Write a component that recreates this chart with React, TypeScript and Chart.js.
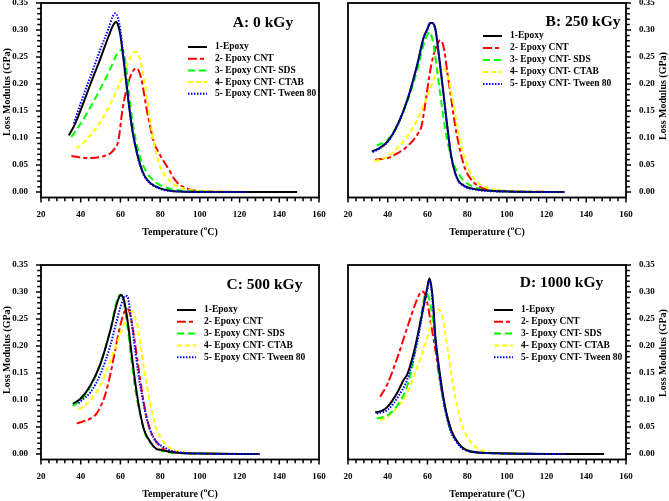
import React, { useEffect, useRef } from "react";
import { Chart, registerables } from "chart.js";
Chart.register(...registerables);

type Pt = [number, number];

const FONT = "'Times New Roman', 'Liberation Serif', serif";

const SERIES_LABELS = [
  "1-Epoxy",
  "2- Epoxy CNT",
  "3- Epoxy CNT- SDS",
  "4- Epoxy CNT- CTAB",
  "5- Epoxy CNT- Tween 80",
];
const SERIES_COLORS = ["#000000", "#ff0000", "#00ff00", "#ffff00", "#0000ff"];
const SERIES_DASH: number[][] = [[], [9, 3, 4, 3], [7, 4], [5, 3], [1.5, 1.5]];
const SERIES_ORDER = [1, 4, 2, 3, 0];

const PANEL_TITLES = ["A: 0 kGy", "B: 250 kGy", "C: 500 kGy", "D: 1000 kGy"];
const X_LABEL_STEP = 20;
const Y_LABEL_STEP = 0.05;

// ---- Panel A: 0 kGy ----
const A_EPOXY: Pt[] = [[34,0.105],[37,0.125],[40,0.152],[45,0.201],[50,0.248],[54,0.288],[56.5,0.31],[57.8,0.315],[59,0.307],[60,0.29],[62,0.232],[64,0.17],[66,0.115],[68,0.078],[70,0.05],[72,0.031],[75,0.017],[80,0.007],[85,0.0025],[90,0.001],[100,0.0003],[149,0]];
const A_CNT: Pt[] = [[35.3,0.067],[40,0.064],[45,0.063],[50,0.065],[55,0.072],[57,0.08],[59,0.096],[61,0.152],[63,0.189],[65,0.214],[66.5,0.225],[67.8,0.229],[69,0.226],[70.5,0.21],[72,0.18],[73,0.158],[75,0.121],[77,0.09],[79,0.075],[81,0.062],[83,0.05],[85,0.038],[87,0.025],[90,0.013],[95,0.005],[100,0.002],[125,0]];
const A_SDS: Pt[] = [[35.3,0.102],[40,0.127],[45,0.158],[50,0.192],[55,0.229],[58,0.254],[59.8,0.262],[61,0.264],[62,0.252],[63,0.228],[65,0.16],[67,0.11],[70,0.063],[73,0.038],[76,0.024],[80,0.013],[85,0.006],[90,0.003],[100,0.001],[125,0]];
const A_CTAB: Pt[] = [[37.8,0.081],[40,0.087],[45,0.106],[50,0.13],[55,0.164],[60,0.204],[64,0.241],[66,0.256],[67.5,0.26],[69,0.254],[70,0.244],[72,0.207],[74,0.158],[76,0.109],[78,0.072],[80,0.047],[83,0.028],[86,0.016],[90,0.009],[95,0.004],[100,0.002],[110,0.001],[128.7,0]];
const A_TWEEN: Pt[] = [[36.5,0.127],[40,0.165],[45,0.215],[50,0.265],[54,0.303],[56,0.324],[57.5,0.331],[58.8,0.322],[60,0.298],[62,0.235],[64,0.17],[66,0.113],[68,0.076],[70,0.048],[72,0.03],[75,0.016],[80,0.006],[85,0.002],[90,0.001],[100,0.0003],[124.5,0]];

// ---- Panel B: 250 kGy ----
const B_EPOXY: Pt[] = [[32,0.075],[36,0.082],[40,0.094],[45,0.125],[50,0.172],[55,0.238],[58,0.285],[60,0.302],[61.3,0.313],[62.5,0.313],[64,0.302],[66,0.247],[68,0.185],[70,0.122],[72,0.066],[74,0.035],[76,0.019],[78,0.013],[80,0.009],[85,0.005],[90,0.003],[100,0.001],[129,0]];
const B_CNT: Pt[] = [[33.7,0.06],[40,0.063],[45,0.072],[50,0.085],[55,0.107],[57,0.122],[59,0.166],[61,0.216],[63,0.253],[65,0.274],[66.5,0.281],[67.5,0.277],[68.5,0.262],[70,0.222],[72,0.172],[74,0.122],[76,0.085],[78,0.054],[80,0.035],[83,0.019],[86,0.01],[90,0.005],[100,0.002],[130,0]];
const B_SDS: Pt[] = [[34.5,0.086],[40,0.097],[45,0.125],[50,0.169],[55,0.228],[58,0.272],[60,0.291],[61,0.296],[62,0.29],[63,0.275],[65,0.222],[67,0.166],[69,0.116],[71,0.079],[73,0.054],[75,0.038],[78,0.022],[80,0.016],[85,0.007],[90,0.003],[100,0.001],[129,0]];
const B_CTAB: Pt[] = [[33.4,0.057],[40,0.066],[45,0.082],[50,0.104],[55,0.135],[60,0.178],[64,0.216],[66.5,0.226],[68,0.228],[69.5,0.222],[71,0.203],[73,0.166],[75,0.122],[77,0.085],[79,0.06],[81,0.041],[84,0.022],[87,0.013],[90,0.008],[95,0.004],[100,0.002],[129,0]];
const B_TWEEN: Pt[] = [[32.5,0.074],[36,0.081],[40,0.093],[45,0.124],[50,0.171],[55,0.237],[58,0.284],[60,0.301],[61.3,0.312],[62.5,0.312],[64,0.301],[66,0.246],[68,0.184],[70,0.121],[72,0.065],[74,0.034],[76,0.018],[78,0.012],[80,0.008],[85,0.004],[90,0.002],[100,0.001],[129,0]];

// ---- Panel C: 500 kGy ----
const C_EPOXY: Pt[] = [[36,0.093],[40,0.103],[45,0.128],[50,0.168],[55,0.23],[58,0.276],[59.3,0.29],[60.3,0.295],[61.3,0.29],[62,0.282],[64,0.236],[66,0.174],[68,0.119],[70,0.075],[72,0.044],[75,0.023],[78,0.01],[80,0.008],[85,0.004],[90,0.002],[100,0.001],[130,0]];
const C_CNT: Pt[] = [[38,0.057],[40,0.059],[45,0.066],[48,0.075],[50,0.088],[52,0.106],[55,0.149],[58,0.205],[60,0.239],[62,0.263],[63.3,0.269],[64.3,0.266],[65,0.257],[67,0.214],[69,0.162],[71,0.112],[73,0.072],[75,0.044],[78,0.023],[80,0.015],[83,0.007],[90,0.003],[100,0.001],[130,0]];
const C_SDS: Pt[] = [[36,0.089],[40,0.1],[45,0.126],[50,0.167],[55,0.231],[58,0.281],[59.5,0.294],[60.5,0.294],[61.5,0.284],[63.5,0.238],[65.5,0.176],[67.5,0.12],[70,0.072],[72,0.042],[75,0.021],[78,0.01],[80,0.007],[85,0.003],[90,0.002],[100,0.001],[130,0]];
const C_CTAB: Pt[] = [[38.9,0.083],[40,0.085],[45,0.1],[50,0.128],[55,0.174],[60,0.223],[63,0.251],[64.5,0.262],[65.7,0.265],[67,0.256],[68.5,0.239],[70,0.205],[72,0.156],[74,0.112],[76,0.075],[78,0.048],[80,0.032],[83,0.017],[86,0.009],[90,0.004],[100,0.001],[130,0]];
const C_TWEEN: Pt[] = [[38.9,0.094],[40,0.098],[45,0.115],[50,0.149],[55,0.202],[58,0.245],[60,0.272],[61.5,0.288],[62.5,0.293],[63.5,0.292],[65,0.262],[67,0.205],[69,0.149],[71,0.106],[73,0.069],[75,0.044],[78,0.023],[80,0.017],[85,0.007],[90,0.003],[100,0.001],[130,0]];

// ---- Panel D: 1000 kGy ----
const D_EPOXY: Pt[] = [[33.7,0.077],[37,0.08],[40,0.088],[45,0.115],[48,0.137],[50,0.149],[53,0.186],[56,0.236],[58,0.273],[60,0.31],[61,0.325],[62,0.31],[63,0.273],[64,0.217],[66,0.156],[68,0.106],[70,0.069],[72,0.044],[74,0.029],[77,0.014],[80,0.007],[85,0.003],[90,0.002],[100,0.001],[149,0]];
const D_CNT: Pt[] = [[36.2,0.106],[40,0.131],[45,0.18],[50,0.236],[54,0.279],[56,0.296],[57.3,0.301],[58.5,0.298],[60,0.279],[62,0.236],[64,0.193],[66,0.143],[68,0.1],[70,0.069],[72,0.044],[74,0.029],[77,0.014],[80,0.007],[85,0.003],[90,0.002],[100,0.001],[131,0]];
const D_SDS: Pt[] = [[34.5,0.066],[40,0.072],[45,0.091],[50,0.128],[53,0.174],[56,0.236],[58,0.283],[59,0.297],[60,0.295],[62,0.267],[64,0.211],[66,0.149],[68,0.1],[70,0.066],[72,0.041],[75,0.023],[78,0.01],[80,0.007],[85,0.003],[90,0.002],[100,0.001],[130,0]];
const D_CTAB: Pt[] = [[36.2,0.063],[40,0.069],[45,0.088],[50,0.115],[55,0.162],[58,0.193],[61,0.23],[63,0.254],[64.5,0.265],[65.5,0.268],[66.7,0.264],[68,0.245],[70,0.199],[72,0.149],[74,0.106],[76,0.072],[78,0.048],[80,0.032],[83,0.017],[86,0.009],[90,0.004],[100,0.001],[130,0]];
const D_TWEEN: Pt[] = [[34.5,0.075],[40,0.082],[45,0.105],[50,0.14],[55,0.21],[58,0.27],[60,0.305],[61,0.322],[62,0.305],[63,0.265],[64,0.21],[66,0.15],[68,0.1],[70,0.064],[72,0.04],[74,0.026],[77,0.012],[80,0.006],[85,0.003],[90,0.002],[100,0.001],[130,0]];

type PanelCfg = {
  title: string;
  series: Pt[][];
  left: number; top: number; width: number; height: number;
  area: { l: number; r: number; t: number; b: number };
  yRight: boolean;
  titleCx: number; titleCy: number;
  legX: number; legY: number; legStep: number;
  yTitleCy: number;
};

const PANELS: PanelCfg[] = [
  { title: PANEL_TITLES[0], series: [A_EPOXY, A_CNT, A_SDS, A_CTAB, A_TWEEN],
    left: 0, top: 0, width: 335, height: 250, area: { l: 41, r: 319, t: 3, b: 197.5 }, yRight: false,
    titleCx: 263, titleCy: 23, legX: 188, legY: 47, legStep: 11.7, yTitleCy: 92 },
  { title: PANEL_TITLES[1], series: [B_EPOXY, B_CNT, B_SDS, B_CTAB, B_TWEEN],
    left: 335, top: 0, width: 334, height: 250, area: { l: 13, r: 291, t: 3, b: 197.5 }, yRight: true,
    titleCx: 248, titleCy: 22, legX: 148, legY: 36, legStep: 12, yTitleCy: 96 },
  { title: PANEL_TITLES[2], series: [C_EPOXY, C_CNT, C_SDS, C_CTAB, C_TWEEN],
    left: 0, top: 250, width: 335, height: 251, area: { l: 41, r: 319, t: 15, b: 209.5 }, yRight: false,
    titleCx: 264.5, titleCy: 35, legX: 177, legY: 60, legStep: 11.8, yTitleCy: 100 },
  { title: PANEL_TITLES[3], series: [D_EPOXY, D_CNT, D_SDS, D_CTAB, D_TWEEN],
    left: 335, top: 250, width: 334, height: 251, area: { l: 13, r: 291, t: 15, b: 209.5 }, yRight: true,
    titleCx: 226.5, titleCy: 33, legX: 159, legY: 60, legStep: 11.8, yTitleCy: 103 },
];

function Panel({ cfg }: { cfg: PanelCfg }) {
  const ref = useRef<HTMLCanvasElement | null>(null);
  useEffect(() => {
    const canvas = ref.current;
    if (!canvas) return;
    const a = cfg.area;
    const decor = {
      id: "decor",
      afterDraw(chart: any) {
        const ctx = chart.ctx as CanvasRenderingContext2D;
        const ca = chart.chartArea;
        const xs = chart.scales.x;
        const ys = chart.scales.y;
        ctx.save();
        ctx.setLineDash([]);
        // tick marks (major longer, minor shorter), drawn outward
        ctx.strokeStyle = "#000";
        ctx.lineWidth = 1.5;
        ctx.beginPath();
        xs.ticks.forEach((t: any) => {
          const px = xs.getPixelForValue(t.value);
          const major = Math.round(t.value) % X_LABEL_STEP === 0;
          ctx.moveTo(px, ca.bottom);
          ctx.lineTo(px, ca.bottom + (major ? 5 : 3.8));
        });
        ys.ticks.forEach((t: any) => {
          const py = ys.getPixelForValue(t.value);
          const major = Math.round(t.value * 100) % 5 === 0;
          const len = major ? 5 : 3.8;
          if (cfg.yRight) {
            ctx.moveTo(ca.right, py);
            ctx.lineTo(ca.right + len, py);
          } else {
            ctx.moveTo(ca.left, py);
            ctx.lineTo(ca.left - len, py);
          }
        });
        ctx.stroke();
        // frame
        ctx.lineWidth = 1.8;
        ctx.strokeRect(ca.left, ca.top, ca.right - ca.left, ca.bottom - ca.top);
        ctx.fillStyle = "#000";
        // x title with superscript
        const cx = (ca.left + ca.right) / 2;
        const ty = ca.bottom + 34.5;
        const p1 = "Temperature (", sup = "o", p2 = "C)";
        ctx.textBaseline = "middle";
        ctx.textAlign = "left";
        ctx.font = `bold 10px ${FONT}`;
        const w1 = ctx.measureText(p1).width;
        const w3 = ctx.measureText(p2).width;
        ctx.font = `bold 7px ${FONT}`;
        const w2 = ctx.measureText(sup).width;
        let x = cx - (w1 + w2 + w3) / 2;
        ctx.font = `bold 10px ${FONT}`;
        ctx.fillText(p1, x, ty);
        x += w1;
        ctx.font = `bold 7px ${FONT}`;
        ctx.fillText(sup, x, ty - 4);
        x += w2;
        ctx.font = `bold 10px ${FONT}`;
        ctx.fillText(p2, x, ty);
        // y title
        ctx.save();
        const yx = cfg.yRight ? ca.right + 37 : ca.left - 34;
        ctx.translate(yx, cfg.yTitleCy);
        ctx.rotate(-Math.PI / 2);
        ctx.textAlign = "center";
        ctx.font = `bold 10px ${FONT}`;
        ctx.fillText("Loss Modulus (GPa)", 0, 0);
        ctx.restore();
        // panel title
        ctx.textAlign = "center";
        ctx.font = `bold 15.5px ${FONT}`;
        ctx.fillText(cfg.title, cfg.titleCx, cfg.titleCy);
        // legend
        ctx.font = `bold 9.5px ${FONT}`;
        ctx.textAlign = "left";
        chart.data.datasets.forEach((ds: any, i: number) => {
          const y = cfg.legY + i * cfg.legStep;
          ctx.beginPath();
          ctx.strokeStyle = ds.borderColor;
          ctx.lineWidth = 2;
          ctx.setLineDash(ds.borderDash || []);
          ctx.moveTo(cfg.legX, y);
          ctx.lineTo(cfg.legX + 19, y);
          ctx.stroke();
          ctx.setLineDash([]);
          ctx.fillStyle = "#000";
          ctx.fillText(ds.label, cfg.legX + 27, y);
        });
        ctx.restore();
      },
    };
    const tickFont = { family: FONT, size: 9, weight: "bold" as const };
    const chart = new Chart(canvas, {
      type: "line",
      data: {
        datasets: cfg.series.map((pts, i) => ({
          label: SERIES_LABELS[i],
          data: pts.map(([x, y]) => ({ x, y })),
          borderColor: SERIES_COLORS[i],
          backgroundColor: SERIES_COLORS[i],
          borderDash: SERIES_DASH[i],
          borderWidth: 2,
          pointRadius: 0,
          fill: false,
          cubicInterpolationMode: "monotone" as const,
          order: SERIES_ORDER[i],
        })),
      },
      options: {
        animation: false,
        responsive: false,
        maintainAspectRatio: false,
        events: [],
        layout: {
          padding: {
            left: cfg.yRight ? a.l : 0,
            right: cfg.yRight ? 0 : cfg.width - a.r,
            top: a.t,
            bottom: 0,
          },
        },
        plugins: { legend: { display: false }, tooltip: { enabled: false }, title: { display: false } },
        scales: {
          x: {
            type: "linear",
            min: 20,
            max: 160,
            border: { display: false },
            grid: { display: false, drawOnChartArea: false, drawTicks: true, tickLength: 4 },
            ticks: {
              stepSize: 4,
              maxTicksLimit: 100,
              autoSkip: false,
              maxRotation: 0,
              includeBounds: false,
              padding: 8,
              color: "#000",
              font: tickFont,
              callback: (v: any) => (Math.round(Number(v)) % X_LABEL_STEP === 0 ? String(Math.round(Number(v))) : ""),
            },
            afterFit: (s: any) => {
              s.height = cfg.height - a.b;
              s.paddingLeft = 0; s.paddingRight = 0; s.paddingTop = 0; s.paddingBottom = 0;
            },
          },
          y: {
            type: "linear",
            position: cfg.yRight ? "right" : "left",
            min: -0.01,
            max: 0.35,
            border: { display: false },
            grid: { display: false, drawOnChartArea: false, drawTicks: true, tickLength: 4 },
            ticks: {
              stepSize: 0.01,
              maxTicksLimit: 100,
              autoSkip: false,
              includeBounds: false,
              padding: 9,
              color: "#000",
              font: tickFont,
              callback: (v: any) => {
                const r = Math.round(Number(v) * 100);
                return r % Math.round(Y_LABEL_STEP * 100) === 0 ? (r / 100).toFixed(2) : "";
              },
            },
            afterBuildTicks: (s: any) => {
              s.ticks = s.ticks.filter((t: any) => t.value > -0.001);
            },
            afterFit: (s: any) => {
              s.width = cfg.yRight ? cfg.width - a.r : a.l;
              s.paddingLeft = 0; s.paddingRight = 0; s.paddingTop = 0; s.paddingBottom = 0;
            },
          },
        },
      },
      plugins: [decor],
    } as any);
    return () => chart.destroy();
  }, [cfg]);
  return (
    <canvas
      ref={ref}
      width={cfg.width}
      height={cfg.height}
      style={{ position: "absolute", left: cfg.left, top: cfg.top, width: cfg.width, height: cfg.height }}
    />
  );
}

export default function App() {
  return (
    <div style={{ position: "fixed", left: 0, top: 0, width: 669, height: 501, background: "#fff", overflow: "hidden" }}>
      {PANELS.map((p, i) => (
        <Panel key={i} cfg={p} />
      ))}
    </div>
  );
}
